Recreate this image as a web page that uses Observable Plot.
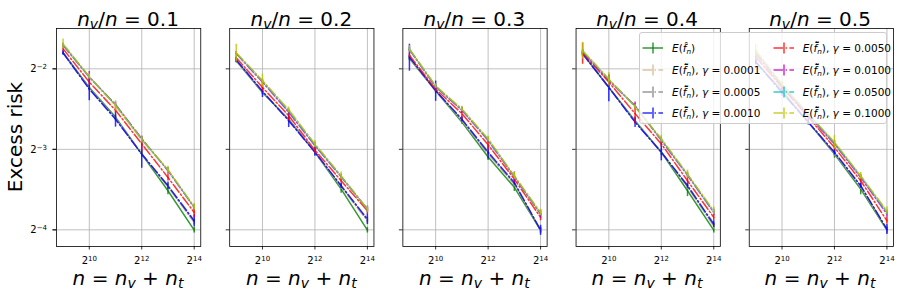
<!DOCTYPE html>
<html><head><meta charset="utf-8">
<script src="https://cdn.jsdelivr.net/npm/d3@7"></script>
<script src="https://cdn.jsdelivr.net/npm/@observablehq/plot@0.6"></script>
<style>
body{margin:0;background:#fff;}
#wrap{position:relative;width:901px;height:297px;font-family:"DejaVu Sans",sans-serif;color:#000;overflow:hidden;}
#wrap svg{position:absolute;left:0;top:0;display:block;}
.lbl{position:absolute;font-size:20px;line-height:20px;white-space:nowrap;transform:translateX(-50%);}
.sub{font-size:0.7em;position:relative;top:0.22em;line-height:0;}
.ylab{position:absolute;font-size:20px;line-height:20px;white-space:nowrap;transform:translate(-50%,-50%) rotate(-90deg);}
#legend{position:absolute;left:639px;top:32px;width:248px;height:92px;background:rgba(255,255,255,0.8);border:1px solid #cccccc;border-radius:3px;box-sizing:border-box;font-family:"DejaVu Sans",sans-serif;}
.item{position:absolute;height:16px;display:flex;align-items:center;font-size:10.5px;white-space:nowrap;}
.item svg{position:static;display:block;}
.item .txt{position:absolute;top:0;line-height:16px;}
.lsub{font-size:0.7em;position:relative;top:0.25em;line-height:0;}
</style></head><body><div id="wrap"></div>
<script>
// ---- data ----
const xs = [512, 1024, 2048, 4096, 8192, 16384];          // n = n_v + n_t
const ratios = [0.1, 0.2, 0.3, 0.4, 0.5];                   // n_v / n (one panel each)
const gammaLabels = [null, "0.0001", "0.0005", "0.0010", "0.0050", "0.0100", "0.0500", "0.1000"];
const seriesColors = ["#008000", "#d2b48c", "#808080", "#0000ff", "#ff0000", "#bf00bf", "#00bfbf", "#bfbf00"];
const xTickValues = [1024, 4096, 16384];
const xTickExps = ["10", "12", "14"];
const yTickValues = [0.25, 0.125, 0.0625];
const yTickExps = ["\u22122", "\u22123", "\u22124"];

// excess risk, one row per panel (n_v/n = 0.1 ... 0.5), columns follow xs
const riskHat = [
  [0.287, 0.213, 0.165, 0.120, 0.0875, 0.0623],
  [0.268, 0.204, 0.162, 0.122, 0.0888, 0.0623],
  [0.273, 0.207, 0.158, 0.117, 0.0901, 0.0623],
  [0.285, 0.213, 0.160, 0.122, 0.0875, 0.0623],
  [0.265, 0.207, 0.158, 0.120, 0.0888, 0.0623]];
const riskG0001 = [
  [0.287, 0.211, 0.163, 0.120, 0.0905, 0.0665],
  [0.269, 0.205, 0.161, 0.122, 0.0905, 0.0675],
  [0.275, 0.207, 0.160, 0.120, 0.0925, 0.0623],
  [0.285, 0.213, 0.159, 0.122, 0.0905, 0.0645],
  [0.265, 0.205, 0.158, 0.121, 0.0905, 0.0626]];
const riskG0005 = [
  [0.287, 0.211, 0.163, 0.120, 0.0910, 0.0670],
  [0.269, 0.205, 0.161, 0.122, 0.0910, 0.0680],
  [0.276, 0.207, 0.161, 0.121, 0.0930, 0.0623],
  [0.285, 0.213, 0.159, 0.122, 0.0910, 0.0650],
  [0.265, 0.205, 0.158, 0.121, 0.0910, 0.0627]];
const riskG0010 = [
  [0.287, 0.210, 0.162, 0.120, 0.0914, 0.0676],
  [0.270, 0.206, 0.160, 0.122, 0.0914, 0.0686],
  [0.277, 0.207, 0.162, 0.122, 0.0940, 0.0623],
  [0.285, 0.213, 0.158, 0.122, 0.0914, 0.0657],
  [0.265, 0.204, 0.158, 0.122, 0.0914, 0.0628]];
const riskG0050 = [
  [0.297, 0.223, 0.175, 0.131, 0.0981, 0.0726],
  [0.275, 0.213, 0.167, 0.124, 0.0954, 0.0736],
  [0.281, 0.210, 0.170, 0.130, 0.0967, 0.0696],
  [0.286, 0.223, 0.170, 0.131, 0.0954, 0.0696],
  [0.277, 0.213, 0.165, 0.127, 0.0954, 0.0676]];
const riskG0100 = [
  [0.306, 0.233, 0.184, 0.137, 0.1040, 0.0758],
  [0.285, 0.223, 0.172, 0.129, 0.0987, 0.0747],
  [0.295, 0.214, 0.175, 0.135, 0.0987, 0.0716],
  [0.289, 0.226, 0.182, 0.135, 0.1000, 0.0726],
  [0.285, 0.216, 0.167, 0.131, 0.0981, 0.0716]];
const riskG0500 = [
  [0.308, 0.233, 0.183, 0.136, 0.1045, 0.0760],
  [0.286, 0.225, 0.174, 0.130, 0.0990, 0.0747],
  [0.296, 0.215, 0.176, 0.136, 0.0990, 0.0720],
  [0.291, 0.228, 0.181, 0.136, 0.1005, 0.0730],
  [0.289, 0.218, 0.169, 0.132, 0.0990, 0.0726]];
const riskG1000 = [
  [0.310, 0.234, 0.182, 0.136, 0.1050, 0.0762],
  [0.287, 0.226, 0.176, 0.131, 0.0995, 0.0747],
  [0.297, 0.216, 0.177, 0.137, 0.0995, 0.0726],
  [0.293, 0.229, 0.180, 0.137, 0.1010, 0.0736],
  [0.293, 0.219, 0.170, 0.133, 0.0995, 0.0736]];

// error-bar half widths (same layout)
const errHat = [
  [0.004, 0.004, 0.003, 0.003, 0.0030, 0.0015],
  [0.005, 0.004, 0.003, 0.003, 0.0031, 0.0015],
  [0.005, 0.004, 0.003, 0.0034, 0.0031, 0.0015],
  [0.004, 0.004, 0.003, 0.003, 0.0043, 0.0015],
  [0.006, 0.004, 0.003, 0.0042, 0.0043, 0.0015]];
const errG0001 = [
  [0.004, 0.004, 0.003, 0.003, 0.002, 0.0015],
  [0.004, 0.004, 0.003, 0.003, 0.002, 0.0015],
  [0.004, 0.004, 0.003, 0.003, 0.002, 0.0015],
  [0.004, 0.004, 0.003, 0.003, 0.002, 0.0015],
  [0.004, 0.004, 0.003, 0.003, 0.002, 0.0015]];
const errG0005 = [
  [0.004, 0.004, 0.003, 0.003, 0.002, 0.0015],
  [0.004, 0.004, 0.003, 0.003, 0.002, 0.0015],
  [0.004, 0.004, 0.003, 0.003, 0.002, 0.0015],
  [0.004, 0.004, 0.003, 0.003, 0.002, 0.0015],
  [0.004, 0.004, 0.003, 0.003, 0.002, 0.0015]];
const errG0010 = [
  [0.006, 0.020, 0.0107, 0.0138, 0.003, 0.0035],
  [0.006, 0.0107, 0.0092, 0.0042, 0.002, 0.0032],
  [0.032, 0.018, 0.004, 0.0070, 0.002, 0.0027],
  [0.008, 0.0245, 0.007, 0.0088, 0.002, 0.0019],
  [0.006, 0.006, 0.004, 0.003, 0.002, 0.0027]];
const errG0050 = [
  [0.005, 0.006, 0.004, 0.0083, 0.003, 0.0031],
  [0.005, 0.007, 0.0072, 0.003, 0.002, 0.002],
  [0.005, 0.004, 0.0088, 0.0056, 0.003, 0.002],
  [0.026, 0.005, 0.015, 0.003, 0.003, 0.002],
  [0.005, 0.004, 0.004, 0.003, 0.002, 0.002]];
const errG0100 = [
  [0.005, 0.0114, 0.004, 0.003, 0.003, 0.002],
  [0.005, 0.004, 0.004, 0.003, 0.002, 0.002],
  [0.005, 0.004, 0.005, 0.003, 0.0042, 0.0025],
  [0.005, 0.004, 0.006, 0.003, 0.002, 0.002],
  [0.005, 0.004, 0.004, 0.003, 0.002, 0.002]];
const errG0500 = [
  [0.004, 0.004, 0.003, 0.003, 0.002, 0.0015],
  [0.004, 0.004, 0.003, 0.003, 0.002, 0.0015],
  [0.004, 0.004, 0.003, 0.003, 0.002, 0.0015],
  [0.004, 0.004, 0.003, 0.003, 0.002, 0.0015],
  [0.004, 0.004, 0.003, 0.003, 0.002, 0.0015]];
const errG1000 = [
  [0.0134, 0.005, 0.0079, 0.004, 0.003, 0.0022],
  [0.022, 0.013, 0.004, 0.0038, 0.0034, 0.002],
  [0.0086, 0.004, 0.004, 0.003, 0.003, 0.002],
  [0.021, 0.0132, 0.004, 0.004, 0.0035, 0.0025],
  [0.015, 0.005, 0.004, 0.0077, 0.003, 0.0025]];

const risks = [riskHat, riskG0001, riskG0005, riskG0010, riskG0050, riskG0100, riskG0500, riskG1000];
const errs = [errHat, errG0001, errG0005, errG0010, errG0050, errG0100, errG0500, errG1000];

// ---- build table ----
const seriesData = risks.map((r, s) => {
  const rows = [];
  ratios.forEach((ratio, p) => xs.forEach((n, i) => rows.push({ratio, n, v: r[p][i], e: errs[s][p][i]})));
  return rows;
});

const DASHDOT = "9.6,2.4,1.5,2.4";
const marks = [
  Plot.gridX({ticks: xTickValues, stroke: "#b0b0b0", strokeOpacity: 1, strokeWidth: 0.8}),
  Plot.gridY({ticks: yTickValues, stroke: "#b0b0b0", strokeOpacity: 1, strokeWidth: 0.8})
];
seriesData.forEach((rows, s) => {
  const common = {fx: "ratio", stroke: seriesColors[s], strokeOpacity: 0.8, strokeWidth: 1.5};
  marks.push(Plot.line(rows, {...common, x: "n", y: "v", strokeDasharray: s === 0 ? null : DASHDOT}));
  marks.push(Plot.ruleX(rows, {...common, x: "n", y1: d => d.v - d.e, y2: d => d.v + d.e}));
});
marks.push(Plot.frame({stroke: "#000", strokeWidth: 0.8}));
marks.push(Plot.axisX({ticks: xTickValues, tickFormat: d => "2^" + xTickExps[xTickValues.indexOf(d)], tickSize: 3.5, tickPadding: 6.4, label: null, stroke: "#000", strokeWidth: 0.8}));
marks.push(Plot.axisY({ticks: yTickValues, tickFormat: d => "2^" + yTickExps[yTickValues.indexOf(d)], tickSize: 3.5, tickPadding: 6, label: null, stroke: "#000", strokeWidth: 0.8}));
marks.push(Plot.axisY({ticks: yTickValues, tickFormat: () => "", tickSize: 3.5, label: null, facetAnchor: null, stroke: "#000", strokeWidth: 0.8}));

const svg = Plot.plot({
  width: 901, height: 297,
  marginLeft: 56, marginRight: 8, marginTop: 28, marginBottom: 51,
  style: {fontFamily: "DejaVu Sans", fontSize: "10px", color: "#000", background: "transparent"},
  fx: {domain: ratios, paddingInner: 0.167, paddingOuter: 0, round: false, axis: null, label: null},
  x: {type: "log", base: 2, domain: [Math.pow(2, 8.75), Math.pow(2, 14.25)]},
  y: {type: "log", base: 2, domain: [Math.pow(2, -4.207), Math.pow(2, -1.499)]},
  marks
});

// superscript formatting of the power-of-two tick labels
d3.select(svg).selectAll("text").each(function () {
  const m = /^2\^(.+)$/.exec(this.textContent);
  if (!m) return;
  const t = d3.select(this);
  t.text(null).attr("fill", "#000");
  t.append("tspan").text("2");
  t.append("tspan").attr("dy", "-0.42em").attr("font-size", "7px").text(m[1]);
});

const wrap = document.getElementById("wrap");
wrap.appendChild(svg);

// titles and axis labels (positioned over the facet bands)
const panelLeft = [56, 229.3, 402.3, 575, 748];
const panelW = 144;
ratios.forEach((r, p) => {
  const cx = panelLeft[p] + panelW / 2;
  const t = document.createElement("div");
  t.className = "lbl";
  t.style.left = cx + "px"; t.style.top = "9px";
  t.innerHTML = `<i>n</i><span class="sub"><i>v</i></span>/<i>n</i> = ${r.toFixed(1)}`;
  wrap.appendChild(t);
  const xl = document.createElement("div");
  xl.className = "lbl";
  xl.style.left = cx + "px"; xl.style.top = "268px";
  xl.innerHTML = `<i>n</i> = <i>n</i><span class="sub"><i>v</i></span> + <i>n</i><span class="sub"><i>t</i></span>`;
  wrap.appendChild(xl);
});
const yl = document.createElement("div");
yl.className = "ylab";
yl.style.left = "15px"; yl.style.top = "137px";
yl.textContent = "Excess risk";
wrap.appendChild(yl);

// legend
const legend = document.createElement("div");
legend.id = "legend";
wrap.appendChild(legend);
gammaLabels.forEach((g, s) => {
  const col = Math.floor(s / 4), row = s % 4;
  const item = document.createElement("div");
  item.className = "item";
  item.style.left = (2 + col * 130.7) + "px";
  item.style.top = (7.3 + row * 21.7) + "px";
  const dash = s === 0 ? "" : `stroke-dasharray="${DASHDOT}"`;
  const c = seriesColors[s];
  item.innerHTML =
    `<svg width="22" height="16"><line x1="0.5" y1="8" x2="21" y2="8" stroke="${c}" stroke-opacity="0.8" stroke-width="1.5" ${dash}/>` +
    `<line x1="11" x2="11" y1="2.5" y2="13.5" stroke="${c}" stroke-opacity="0.8" stroke-width="1.5"/></svg>` +
    `<span class="txt" style="left:30px">${s === 0
      ? `<i>E</i>(<i>f\u0302</i><span class="lsub"><i>n</i></span>)`
      : `<i>E</i>(<i>f\u0304\u0303</i><span class="lsub"><i>n</i></span>), <i>\u03b3</i> = ${g}`}</span>`;
  legend.appendChild(item);
});
</script></body></html>
